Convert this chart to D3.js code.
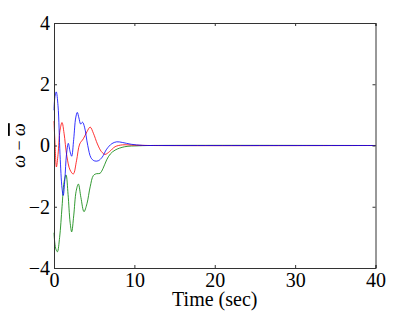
<!DOCTYPE html>
<html>
<head>
<meta charset="utf-8">
<script src="https://cdn.jsdelivr.net/npm/d3@7"></script>
<style>
  body { margin: 0; background: #fff; }
  svg { display: block; }
</style>
</head>
<body>
<svg id="chart"></svg>
<script>
const width = 415;
const height = 312;
const margin = { top: 23, right: 39.5, bottom: 44, left: 54 };

// time samples (sec) and values for each trace
const blueT = [0, 0.12, 0.28, 0.5, 0.75, 1.0, 1.15, 1.35, 1.55, 1.78, 2.0, 2.2, 2.45, 2.7, 2.9, 3.1, 3.32, 3.55, 3.8, 4.2, 4.6, 5.0, 5.5, 6.0, 6.55, 7.2, 7.8, 8.5, 9.6, 11, 13, 40];
const blueV = [1.15, 1.6, 1.75, 1.3, -0.3, -1.4, -1.63, -1.1, -0.3, 0.07, -0.2, -0.35, 0.2, 0.9, 1.08, 0.9, 0.7, 0.76, 0.6, 0.0, -0.4, -0.5, -0.5, -0.38, -0.12, 0.06, 0.12, 0.1, 0.04, 0.005, 0, 0];

const redT = [0, 0.12, 0.3, 0.5, 0.75, 1.0, 1.25, 1.6, 2.0, 2.4, 2.8, 3.2, 3.65, 4.1, 4.5, 4.9, 5.4, 5.9, 6.35, 6.9, 7.6, 8.5, 10, 12, 40];
const redV = [0.8, 0.1, -0.7, -0.3, 0.5, 0.75, 0.4, -0.35, -0.8, -0.93, -0.5, 0.05, 0.22, 0.45, 0.6, 0.4, 0.05, -0.2, -0.29, -0.2, -0.04, 0.02, 0.01, 0, 0];

const greenT = [0, 0.2, 0.42, 0.7, 1.0, 1.25, 1.5, 1.75, 2.0, 2.2, 2.45, 2.75, 3.03, 3.35, 3.73, 4.1, 4.5, 4.9, 5.3, 5.72, 6.1, 6.55, 7.0, 7.6, 8.8, 10.5, 12, 40];
const greenV = [-2.85, -3.35, -3.47, -3.0, -2.0, -1.2, -0.96, -1.6, -2.5, -2.82, -2.3, -1.5, -1.26, -1.7, -2.16, -1.9, -1.35, -0.98, -0.92, -0.91, -0.75, -0.47, -0.28, -0.15, -0.04, -0.01, 0, 0];

const xTicks = [0, 10, 20, 30, 40];
const yTicks = [-4, -2, 0, 2, 4];

const series = [
  { t: greenT, v: greenV, color: "#008000" },
  { t: redT, v: redV, color: "#ff0000" },
  { t: blueT, v: blueV, color: "#0000ff" }
];

const serif = "'Liberation Serif', 'DejaVu Serif', serif";
const fs = 20;
const tickLen = 3;

const svg = d3.select("#chart")
  .attr("width", width)
  .attr("height", height);

const x = d3.scaleLinear().domain([0, 40]).range([margin.left, width - margin.right]);
const y = d3.scaleLinear().domain([-4, 4]).range([height - margin.bottom, margin.top]);

const line = d3.line()
  .x(d => x(d[0]))
  .y(d => y(d[1]))
  .curve(d3.curveCatmullRom.alpha(0.5));

svg.append("g")
  .selectAll("path")
  .data(series)
  .join("path")
  .attr("d", s => line(s.t.map((t, i) => [t, s.v[i]])))
  .attr("fill", "none")
  .attr("stroke", s => s.color)
  .attr("stroke-width", 0.8);

// box axes, ticks pointing inward
function styleText(g) {
  g.attr("font-family", serif).attr("font-size", fs);
  g.selectAll("text").attr("fill", "#000");
}

svg.append("g")
  .attr("transform", `translate(0,${y(-4)})`)
  .call(d3.axisBottom(x).tickValues(xTicks).tickSize(-tickLen).tickPadding(5).tickFormat(d3.format("d")))
  .call(styleText);

svg.append("g")
  .attr("transform", `translate(0,${y(4)})`)
  .call(d3.axisTop(x).tickValues(xTicks).tickSize(-tickLen).tickFormat(""));

svg.append("g")
  .attr("transform", `translate(${x(0)},0)`)
  .call(d3.axisLeft(y).tickValues(yTicks).tickSize(-tickLen).tickPadding(4).tickFormat(d => d < 0 ? "\u2212" + Math.abs(d) : d))
  .call(styleText);

svg.append("g")
  .attr("transform", `translate(${x(40)},0)`)
  .call(d3.axisRight(y).tickValues(yTicks).tickSize(-tickLen).tickFormat(""));

svg.selectAll(".domain").attr("stroke", "#333").attr("stroke-width", 1);
svg.selectAll(".tick line").attr("stroke", "#333");

svg.append("text")
  .attr("x", (x(0) + x(40)) / 2)
  .attr("y", 306)
  .attr("text-anchor", "middle")
  .attr("font-family", serif)
  .attr("font-size", fs)
  .text("Time (sec)");

const ylab = svg.append("text")
  .attr("transform", `translate(25,${y(0)}) rotate(-90)`)
  .attr("text-anchor", "middle")
  .attr("font-family", serif)
  .attr("font-size", 18);
ylab.append("tspan").attr("font-style", "italic").text("\u03c9");
ylab.append("tspan").text(" \u2212 ");
ylab.append("tspan").attr("font-style", "italic").attr("text-decoration", "overline").text("\u03c9");
</script>
</body>
</html>
